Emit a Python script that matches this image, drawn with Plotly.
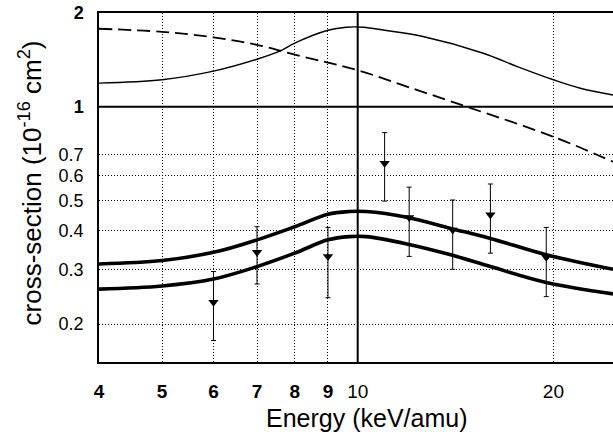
import plotly.graph_objects as go
import math

# Model curves
E_a = [4, 5, 6, 7, 7.6, 8, 9, 9.6, 10.2, 11, 12.6, 15.6, 17.6, 20, 22, 24.7]
sig_a = [1.19, 1.22, 1.30, 1.42, 1.51, 1.60, 1.76, 1.80, 1.80, 1.76, 1.68, 1.485, 1.345, 1.22, 1.146, 1.09]

E_b = [4, 5, 6, 7, 8, 9, 10, 11.9, 14.7, 20, 24.7]
sig_b = [1.78, 1.74, 1.67, 1.58, 1.47, 1.385, 1.31, 1.16, 1.0, 0.80, 0.665]

E_c = [4, 5, 6, 7, 8, 9, 9.7, 10.3, 11.9, 13.9, 16, 19.5, 24.7]
sig_c_hi = [0.312, 0.32, 0.34, 0.373, 0.411, 0.451, 0.46, 0.46, 0.441, 0.406, 0.377, 0.334, 0.30]
sig_c_lo = [0.259, 0.265, 0.279, 0.306, 0.338, 0.373, 0.382, 0.382, 0.362, 0.334, 0.306, 0.272, 0.25]

# Experimental points
E_exp = [6, 7, 9, 11, 12, 14, 16, 19.5]
sig_exp = [0.235, 0.34, 0.33, 0.658, 0.44, 0.401, 0.449, 0.328]
sig_exp_top = [0.295, 0.411, 0.409, 0.825, 0.551, 0.501, 0.564, 0.409]
sig_exp_bot = [0.177, 0.269, 0.243, 0.497, 0.33, 0.30, 0.338, 0.245]

x_ticks = [4, 5, 6, 7, 8, 9, 10, 20]
x_labels = ["<b>4</b>", "<b>5</b>", "<b>6</b>", "<b>7</b>", "<b>8</b>", "<b>9</b>", "10", "20"]
y_ticks = [0.2, 0.3, 0.4, 0.5, 0.6, 0.7, 1, 2]
y_labels = ["0.2", "0.3", "0.4", "0.5", "0.6", "0.7", "<b>1</b>", "<b>2</b>"]

x_range = [4, 24.7]
y_range = [0.151, 2.0]

FONT = "Liberation Sans, Arial, Helvetica, sans-serif"

fig = go.Figure()

fig.add_trace(go.Scatter(x=E_a, y=sig_a, mode="lines", line=dict(color="black", width=1.4, shape="spline"), showlegend=False))
fig.add_trace(go.Scatter(x=E_b, y=sig_b, mode="lines", line=dict(color="black", width=1.8, dash="13px,6px", shape="spline"), showlegend=False))
fig.add_trace(go.Scatter(x=E_c, y=sig_c_hi, mode="lines", line=dict(color="black", width=3.6, shape="spline"), showlegend=False))
fig.add_trace(go.Scatter(x=E_c, y=sig_c_lo, mode="lines", line=dict(color="black", width=3.6, shape="spline"), showlegend=False))

fig.add_trace(go.Scatter(
    x=E_exp, y=sig_exp, mode="markers",
    marker=dict(symbol="triangle-down", size=9, color="black"),
    error_y=dict(type="data", symmetric=False,
                 array=[t - v for t, v in zip(sig_exp_top, sig_exp)],
                 arrayminus=[v - b for v, b in zip(sig_exp, sig_exp_bot)],
                 color="black", thickness=1, width=2.5),
    showlegend=False))

# solid reference lines at 10 keV/amu and 1
fig.add_trace(go.Scatter(x=[10, 10], y=y_range, mode="lines", line=dict(color="black", width=2), showlegend=False, hoverinfo="skip"))
fig.add_trace(go.Scatter(x=x_range, y=[1, 1], mode="lines", line=dict(color="black", width=2), showlegend=False, hoverinfo="skip"))

fig.update_xaxes(
    type="log", range=[math.log10(x_range[0]), math.log10(x_range[1])],
    tickvals=x_ticks, ticktext=x_labels,
    showgrid=True, gridcolor="black", gridwidth=1, griddash="1px,2px",
    showline=True, linecolor="black", linewidth=1.5, mirror=True,
    ticks="", ticklabelstandoff=11,
    tickfont=dict(family=FONT, size=19, color="black"),
    zeroline=False,
)
fig.update_yaxes(
    type="log", range=[math.log10(y_range[0]), math.log10(y_range[1])],
    tickvals=y_ticks, ticktext=y_labels,
    showgrid=True, gridcolor="black", gridwidth=1, griddash="1px,2px",
    showline=True, linecolor="black", linewidth=1.5, mirror=False,
    ticks="", ticklabelstandoff=10,
    tickfont=dict(family=FONT, size=18, color="black"),
    zeroline=False,
)

fig.add_annotation(text="Energy (keV/amu)", xref="paper", yref="paper",
                   x=0.521, y=-0.16, xanchor="center", yanchor="middle",
                   showarrow=False, font=dict(family=FONT, size=25, color="black"))
fig.add_annotation(text="cross-section (10<sup>-16</sup> cm<sup>2</sup>)", xref="paper", yref="paper",
                   x=-0.134, y=0.512, xanchor="center", yanchor="middle", textangle=-90,
                   showarrow=False, font=dict(family=FONT, size=26, color="black"))

fig.update_layout(
    width=613, height=434,
    margin=dict(l=99, r=0, t=13, b=72),
    paper_bgcolor="white", plot_bgcolor="white",
    showlegend=False,
)

fig.write_html("out.html")
